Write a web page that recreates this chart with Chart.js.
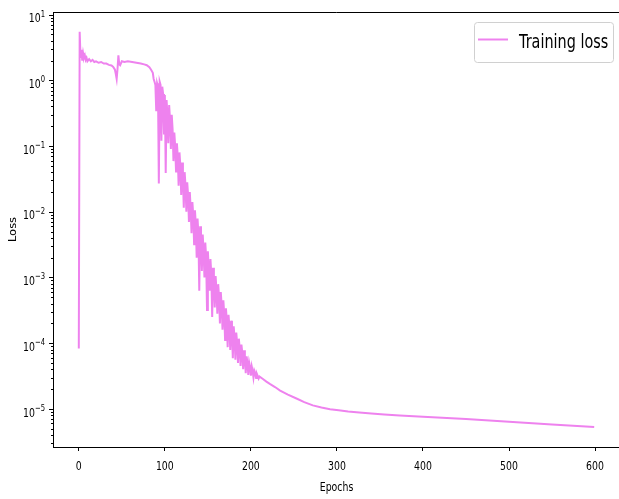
<!DOCTYPE html>
<html>
<head>
<meta charset="utf-8">
<script src="https://cdn.jsdelivr.net/npm/chart.js@4.4.0/dist/chart.umd.min.js"></script>
<style>
  html, body { margin: 0; padding: 0; background: #fff; overflow: hidden; }
  #wrap { width: 621px; height: 499px; position: relative; }
</style>
</head>
<body>
<div id="wrap"><canvas id="lossChart"></canvas></div>
<script>
// loss per epoch (sparser where the curve is smooth)
const epochs = [
  0, 1, 2, 3, 4, 5, 6, 7, 8, 9, 10, 12, 14, 16, 18, 20, 23, 26, 29, 32, 35, 38,
  40, 42, 43, 44, 45, 46, 47, 48, 50, 53, 57, 62, 67, 72, 76, 79, 82, 84, 86, 87, 88,
  89, 90, 91, 92, 93, 94, 95, 96, 97, 98, 99, 100, 101, 102, 103, 104, 105, 106, 107, 108, 109, 110,
  111, 112, 113, 114, 115, 116, 117, 118, 119, 120, 121, 122, 123, 124, 125, 126, 127, 128, 129, 130,
  131, 132, 133, 134, 135, 136, 137, 138, 139, 140, 141, 142, 143, 144, 145, 146, 147, 148, 149, 150,
  151, 152, 153, 154, 155, 156, 157, 158, 159, 160, 161, 162, 163, 164, 165, 166, 167, 168, 169, 170,
  171, 172, 173, 174, 175, 176, 177, 178, 179, 180, 181, 182, 183, 184, 185, 186, 187, 188, 189, 190,
  191, 192, 193, 194, 195, 196, 197, 198, 199, 200, 201, 202, 203, 204, 205, 206, 207, 208, 209, 210,
  214, 218, 222, 228, 234, 243, 253, 262, 272, 282, 292, 302, 313, 326, 340, 355, 373, 400, 450, 500, 550, 599
];

const trainLoss = [
  8.3e-5, 5.5, 2.2, 2.9, 2.0, 2.6, 2.2, 2.4, 2.05, 2.2, 1.95, 2.1, 1.95, 2.05, 1.9, 1.95, 1.85, 1.9, 1.8, 1.8, 1.72, 1.68,
  1.6, 1.45, 1.25, 1.05, 1.5, 2.4, 1.75, 1.7, 1.95, 1.9, 1.95, 1.9, 1.85, 1.8, 1.75, 1.7, 1.58, 1.45, 1.3, 1.05, 0.95,
  // 89 - 110
  0.85, 0.34, 0.9, 0.8, 0.027, 0.95, 0.85, 0.12, 0.8, 0.62, 0.15, 0.6, 0.039, 0.5, 0.3, 0.11, 0.42, 0.25, 0.09, 0.3, 0.18, 0.059,
  // 111 - 130
  0.16, 0.1, 0.041, 0.11, 0.07, 0.025, 0.08, 0.05, 0.018, 0.056, 0.032, 0.0115, 0.04, 0.025, 0.01, 0.028, 0.018, 0.007, 0.02, 0.011,
  // 131 - 150
  0.0047, 0.014, 0.0089, 0.0032, 0.0105, 0.0063, 0.002, 0.0079, 0.0045, 0.00063, 0.006, 0.0035, 0.00126, 0.0045, 0.0025, 0.001, 0.0034, 0.002, 0.00032, 0.0025,
  // 151 - 170
  0.0014, 0.00063, 0.0019, 0.0011, 0.00025, 0.0014, 0.00089, 0.00035, 0.00105, 0.00063, 0.00028, 0.00079, 0.0005, 0.0002, 0.0006, 0.00038, 0.00016, 0.00045, 0.00028, 0.000112,
  // 171 - 190
  0.00034, 0.00022, 8.7e-5, 0.00027, 0.00018, 7.9e-5, 0.00022, 0.00014, 5.9e-5, 0.00018, 0.00012, 5.6e-5, 0.000145, 0.0001, 5.0e-5, 0.000117, 8.3e-5, 4.5e-5, 9.5e-5, 7.1e-5,
  // 191 - 210
  4.0e-5, 7.8e-5, 6.0e-5, 3.5e-5, 6.3e-5, 5.0e-5, 3.3e-5, 5.1e-5, 4.4e-5, 3.2e-5, 4.4e-5, 3.8e-5, 3.0e-5, 3.8e-5, 3.5e-5, 2.95e-5, 3.4e-5, 3.15e-5, 2.9e-5, 3.1e-5,
  // smooth tail
  2.85e-5, 2.6e-5, 2.4e-5, 2.15e-5, 1.9e-5, 1.65e-5, 1.44e-5, 1.27e-5, 1.13e-5, 1.05e-5, 9.9e-6, 9.5e-6, 9.1e-6, 8.8e-6, 8.5e-6, 8.2e-6, 7.9e-6, 7.6e-6, 7.0e-6, 6.35e-6, 5.8e-6, 5.3e-6
];

const xTicks = [0, 100, 200, 300, 400, 500, 600];
const yDecades = [-5, -4, -3, -2, -1, 0, 1];
const seriesName = "Training loss";
const xTitle = "Epochs";
const yTitle = "Loss";

const LINE = "#ee82ee";
const FONT = "'DejaVu Sans', sans-serif";
const SQUEEZE = 0.72;   // narrow glyphs

// text drawn horizontally compressed
function narrowText(ctx, text, x, y, size, align) {
  ctx.save();
  ctx.font = size + "px " + FONT;
  const w = ctx.measureText(text).width * SQUEEZE;
  let left = x;
  if (align === "center") left = x - w / 2;
  if (align === "right") left = x - w;
  ctx.translate(left, y);
  ctx.scale(SQUEEZE, 1);
  ctx.textAlign = "left";
  ctx.textBaseline = "alphabetic";
  ctx.fillText(text, 0, 0);
  ctx.restore();
  return w;
}

function narrowWidth(ctx, text, size) {
  ctx.save();
  ctx.font = size + "px " + FONT;
  const w = ctx.measureText(text).width * SQUEEZE;
  ctx.restore();
  return w;
}

// spines, log ticks with superscript labels, axis text, legend box
const decorations = {
  id: "decorations",
  afterDraw(chart) {
    const { ctx, chartArea: a, scales: { x, y } } = chart;
    ctx.save();

    ctx.strokeStyle = "#000";
    ctx.lineWidth = 1;
    ctx.beginPath();
    ctx.moveTo(a.left, a.top + 0.5);
    ctx.lineTo(a.right - 0.5, a.top + 0.5);
    ctx.lineTo(a.right - 0.5, a.bottom);
    ctx.stroke();

    const tick = (py, len) => {
      ctx.beginPath();
      ctx.moveTo(a.left - len, Math.round(py) + 0.5);
      ctx.lineTo(a.left, Math.round(py) + 0.5);
      ctx.stroke();
    };

    [yDecades[0] - 1, ...yDecades].forEach(d => {
      const base = Math.pow(10, d);
      for (let m = 2; m <= 9; m++) {
        const v = m * base;
        if (v >= y.min && v <= y.max) tick(y.getPixelForValue(v), 2);
      }
    });

    ctx.fillStyle = "#000";
    yDecades.forEach(d => {
      const py = y.getPixelForValue(Math.pow(10, d));
      tick(py, 4);
      const exp = d < 0 ? "\u2212" + (-d) : String(d);
      const right = a.left - 8;
      const ew = narrowWidth(ctx, exp, 9.5);
      narrowText(ctx, exp, right, py + 2, 9.5, "right");
      narrowText(ctx, "10", right - ew, py + 7.7, 13, "right");
    });

    xTicks.forEach(v => {
      narrowText(ctx, String(v), x.getPixelForValue(v), a.bottom + 22.5, 13, "center");
    });

    narrowText(ctx, xTitle, (a.left + a.right) / 2, a.bottom + 43.5, 13, "center");

    ctx.save();
    ctx.font = "11.5px " + FONT;
    ctx.translate(16, (a.top + a.bottom) / 2);
    ctx.scale(0.85, 1);
    ctx.rotate(-Math.PI / 2);
    ctx.textAlign = "center";
    ctx.textBaseline = "alphabetic";
    ctx.fillText(yTitle, 0, 0);
    ctx.restore();

    // legend
    const bx = 474, by = a.top + 10, bw = 139, bh = 40;
    ctx.fillStyle = "rgba(255,255,255,0.8)";
    ctx.strokeStyle = "#d0d0d0";
    ctx.lineWidth = 1;
    ctx.beginPath();
    ctx.roundRect(bx + 0.5, by + 0.5, bw, bh, 3);
    ctx.fill();
    ctx.stroke();

    const ds = chart.data.datasets[0];
    ctx.strokeStyle = ds.borderColor;
    ctx.lineWidth = 2;
    ctx.beginPath();
    ctx.moveTo(bx + 4, by + 17.5);
    ctx.lineTo(bx + 34, by + 17.5);
    ctx.stroke();

    ctx.fillStyle = "#000";
    narrowText(ctx, ds.label, bx + 45, by + 26, 20, "left");

    ctx.restore();
  }
};

new Chart(document.getElementById("lossChart"), {
  type: "line",
  data: {
    datasets: [{
      label: seriesName,
      data: epochs.map((e, i) => ({ x: e, y: trainLoss[i] })),
      borderColor: LINE,
      borderWidth: 2,
      pointRadius: 0,
      tension: 0,
      fill: false
    }]
  },
  options: {
    responsive: true,
    maintainAspectRatio: false,
    animation: false,
    layout: { padding: { top: 12, right: 1, left: 0, bottom: 0 } },
    plugins: {
      legend: { display: false },
      tooltip: { enabled: false }
    },
    scales: {
      x: {
        type: "linear",
        min: -30,
        max: 629,
        afterBuildTicks: s => { s.ticks = xTicks.map(v => ({ value: v })); },
        afterFit: s => { s.height = 52; },
        grid: { drawOnChartArea: false, drawTicks: true, tickLength: 4, tickColor: "#000" },
        border: { color: "#000", width: 1 },
        ticks: { display: false }
      },
      y: {
        type: "logarithmic",
        min: 2.63e-6,
        max: 10.96,
        afterFit: s => { s.width = 53; },
        grid: { drawOnChartArea: false, drawTicks: false },
        border: { color: "#000", width: 1 },
        ticks: { display: false }
      }
    }
  },
  plugins: [decorations]
});
</script>
</body>
</html>
